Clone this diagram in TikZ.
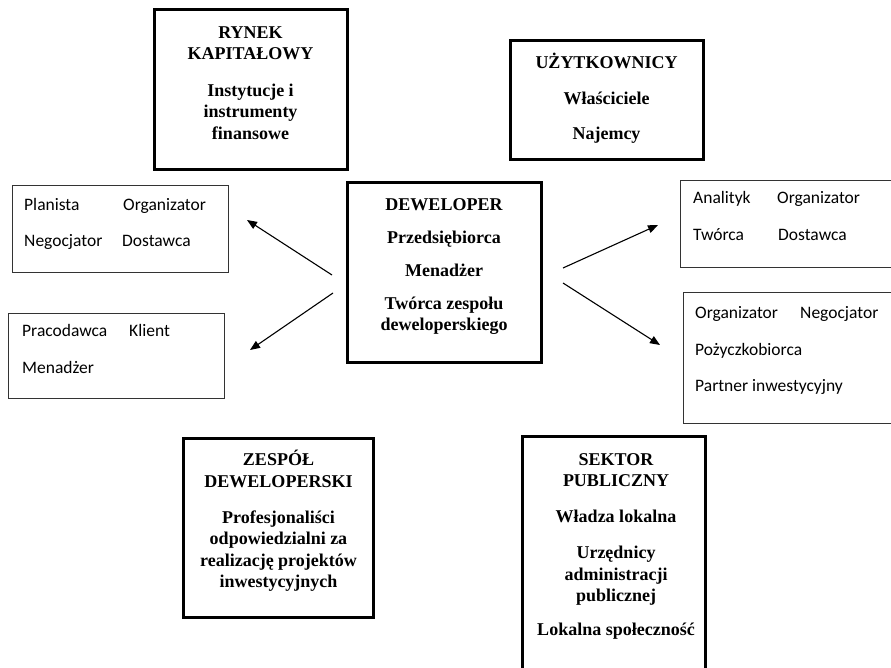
\documentclass[tikz,border=0pt]{standalone}
\usepackage{fontspec}
\setmainfont{Liberation Serif}
\newfontfamily\calibrifont{Carlito}
\usetikzlibrary{arrows.meta}
\begin{document}
\begin{tikzpicture}[x=1pt,y=-1pt,
  bigbox/.style={draw=black, line width=3pt, inner sep=0pt},
  smallbox/.style={draw=black!80, line width=0.9pt, inner sep=0pt},
  ttl/.style={inner sep=0pt, align=center, font=\bfseries\fontsize{18}{21.5}\selectfont, anchor=north},
  wd/.style={inner sep=0pt, anchor=base west, font=\calibrifont\fontsize{17.5}{21}\selectfont},
  arr/.style={line width=1.1pt, -{Triangle[length=10pt,width=8pt]}}
]
\useasboundingbox (0,0) rectangle (891,668);

% big boxes
\node[bigbox, minimum width=193pt, minimum height=160pt] (rynek) at (250.5,90) {};
\node[bigbox, minimum width=193pt, minimum height=119pt] (uzyt) at (606.5,100.5) {};
\node[bigbox, minimum width=194pt, minimum height=179pt] (dev) at (444,272.5) {};
\node[bigbox, minimum width=190pt, minimum height=179pt] (zespol) at (278,527.5) {};
\node[bigbox, minimum width=183pt, minimum height=284pt] (sektor) at (614,578) {};

% small boxes
\node[smallbox, minimum width=216pt, minimum height=87pt] (lb1) at (120,228.5) {};
\node[smallbox, minimum width=216pt, minimum height=85pt] (lb2) at (116,355.5) {};
\node[smallbox, minimum width=230pt, minimum height=87pt] (rb1) at (795,223.5) {};
\node[smallbox, minimum width=227pt, minimum height=131pt] (rb2) at (796.5,357.5) {};

% titles
\node[ttl] (rynekT) at (250.5,23) {\strut RYNEK\\KAPITAŁOWY\\[15pt]Instytucje i\\instrumenty\\finansowe};
\node[ttl] (uzytT) at (606.5,53) {\strut UŻYTKOWNICY\\[14pt]Właściciele\\[14pt]Najemcy};
\node[ttl] (devT) at (444,195) {\strut DEWELOPER\\[11.5pt]Przedsiębiorca\\[11.5pt]Menadżer\\[11.5pt]Twórca zespołu\\deweloperskiego};
\node[ttl] (zespolT) at (278.5,450) {\strut ZESPÓŁ\\DEWELOPERSKI\\[14.5pt]Profesjonaliści\\odpowiedzialni za\\realizację projektów\\inwestycyjnych};
\node[ttl] (sektorT) at (616,450) {\strut SEKTOR\\PUBLICZNY\\[14.5pt]Władza lokalna\\[14.5pt]Urzędnicy\\administracji\\publicznej\\[12pt]Lokalna społeczność};

% words left box 1
\node[wd] (w1) at (24,211) {Planista};
\node[wd] (w2) at (123,211) {Organizator};
\node[wd] (w3) at (24,247) {Negocjator};
\node[wd] (w4) at (122,247) {Dostawca};
% words left box 2
\node[wd] (w5) at (22,336.5) {Pracodawca};
\node[wd] (w6) at (129,336.5) {Klient};
\node[wd] (w7) at (22,373.5) {Menadżer};
% words right box 1
\node[wd] (w8) at (693,204) {Analityk};
\node[wd] (w9) at (777,204) {Organizator};
\node[wd] (w10) at (693,241) {Twórca};
\node[wd] (w11) at (778,241) {Dostawca};
% words right box 2
\node[wd] (w12) at (695,318) {Organizator};
\node[wd] (w13) at (800,318) {Negocjator};
\node[wd] (w14) at (695,355) {Pożyczkobiorca};
\node[wd] (w15) at (695,391) {Partner inwestycyjny};

% arrows
\coordinate (t1) at (332,275); \coordinate (h1) at (247,220);
\coordinate (t2) at (333,293); \coordinate (h2) at (250,350);
\coordinate (t3) at (563,268); \coordinate (h3) at (658,225);
\coordinate (t4) at (563,283); \coordinate (h4) at (660,345);
\draw[arr] (t1) -- (h1);
\draw[arr] (t2) -- (h2);
\draw[arr] (t3) -- (h3);
\draw[arr] (t4) -- (h4);
\end{tikzpicture}
\end{document}
